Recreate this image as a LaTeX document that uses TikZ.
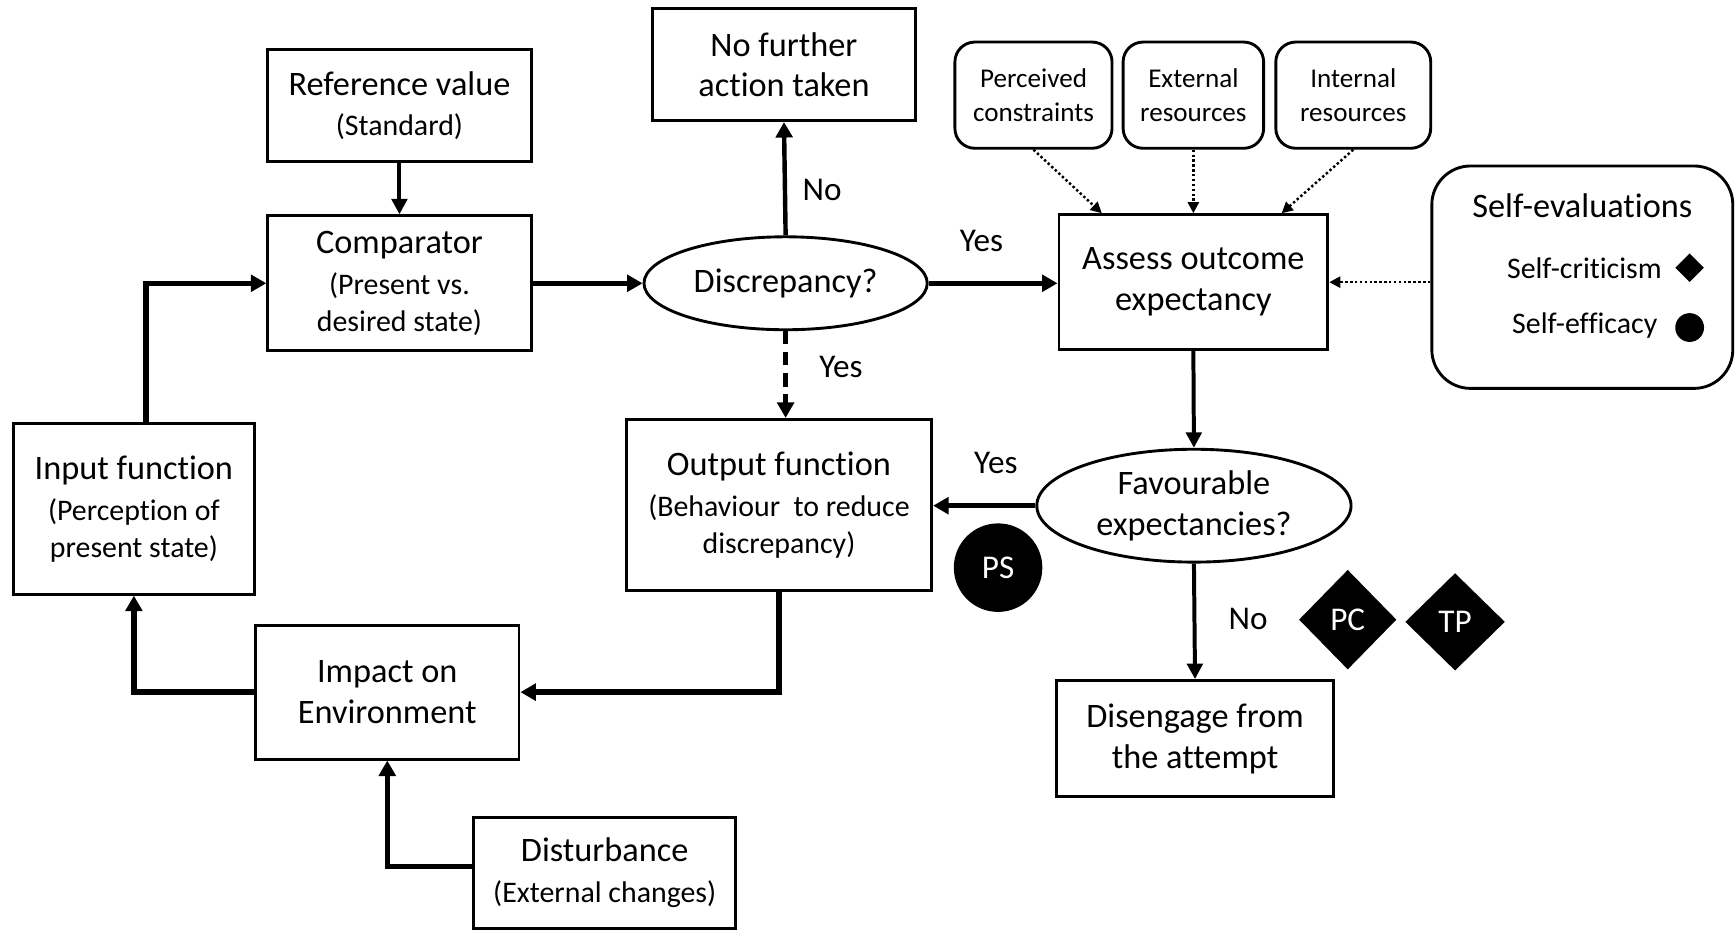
\documentclass[tikz,border=0pt]{standalone}
\usepackage{fontspec}
\setmainfont[Ligatures=NoCommon]{Carlito}
\usetikzlibrary{arrows.meta,shapes.geometric,calc}
\newcommand{\fA}{\fontsize{31}{37}\selectfont}
\newcommand{\fB}{\fontsize{27}{34}\selectfont}
\newcommand{\fC}{\fontsize{24.5}{30}\selectfont}
\newcommand{\fL}{\fontsize{30}{36}\selectfont}
\begin{document}
\begin{tikzpicture}[x=1pt,y=1pt,
  box/.style={draw,line width=2.6pt,align=center,inner sep=0pt,font=\fA},
  rbox/.style={draw,line width=2.6pt,align=center,inner sep=0pt,font=\fC,rounded corners=18pt},
  oval/.style={draw,ellipse,line width=2.6pt,align=center,inner sep=0pt,font=\fA},
  conn/.style={line width=5pt,-{Triangle[length=14pt,width=15pt]}},
  connm/.style={line width=3.6pt,-{Triangle[length=14pt,width=14pt]}},
  dotconn/.style={line width=2.2pt,dash pattern=on 2.2pt off 2.2pt,-{Triangle[length=10pt,width=10pt]}},
  lbl/.style={font=\fL,inner sep=0pt},
  blackmark/.style={fill=black,draw=none,text=white,font=\fL,inner sep=0pt}
]
\useasboundingbox (0,0) rectangle (1568,-841);

% main boxes
\node[box,minimum width=238,minimum height=101] (ref) at (361,-95.5)
  {Reference value\\{\fB (Standard)}};
\node[box,minimum width=238,minimum height=122] (comp) at (361,-256)
  {Comparator\\{\fB (Present vs.}\\[-4pt]{\fB desired state)}};
\node[box,minimum width=237,minimum height=101] (nofur) at (708.5,-58.5)
  {No further\\action taken};
\node[oval,minimum width=256,minimum height=84] (disc) at (710,-256) {Discrepancy?};
\node[box,minimum width=276,minimum height=155] (out) at (704,-456.5)
  {Output function\\{\fB (Behaviour\ \ to reduce}\\[-4pt]{\fB discrepancy)}};
\node[box,minimum width=218,minimum height=154] (inp) at (121,-460)
  {Input function\\{\fB (Perception of}\\[-4pt]{\fB present state)}};
\node[box,minimum width=238,minimum height=121] (imp) at (350,-625.5)
  {Impact on\\Environment};
\node[box,minimum width=237,minimum height=100] (dist) at (546.5,-789)
  {Disturbance\\{\fB (External changes)}};
\node[box,minimum width=243,minimum height=122] (ass) at (1078.5,-255)
  {Assess outcome\\expectancy};
\node[rbox,minimum width=142,minimum height=96] (perc) at (934,-86)
  {Perceived\\constraints};
\node[rbox,minimum width=127,minimum height=96] (ext) at (1078.5,-86)
  {External\\resources};
\node[rbox,minimum width=140,minimum height=96] (int) at (1223,-86)
  {Internal\\resources};
\node[draw,line width=2.6pt,rounded corners=35pt,minimum width=272,minimum height=201,inner sep=0pt] (self) at (1430,-250.5) {};
\node[font=\fA,inner sep=0pt] (selft) at (1430,-186) {Self-evaluations};
\node[font=\fB,inner sep=0pt,anchor=east] (scrit) at (1502,-242) {Self-criticism};
\node[font=\fB,inner sep=0pt,anchor=east] (seff) at (1498,-294) {Self-efficacy};
\node[diamond,fill=black,minimum width=26,minimum height=26,inner sep=0pt] (scd) at (1527,-242) {};
\node[circle,fill=black,minimum size=26,inner sep=0pt] (sec) at (1527,-296) {};
\node[oval,minimum width=284,minimum height=102] (fav) at (1079,-457)
  {Favourable\\expectancies?};
\node[blackmark,circle,minimum size=80] (ps) at (902,-513) {PS};
\node[blackmark,diamond,minimum width=88,minimum height=90] (pc) at (1218,-560) {PC};
\node[blackmark,diamond,minimum width=90,minimum height=88] (tp) at (1315,-562) {TP};
\node[box,minimum width=250,minimum height=105] (dis) at (1080,-667.5)
  {Disengage from\\the attempt};

% connectors
\draw[connm] (ref.south) -- (comp.north);
\draw[conn] (comp.east) -- (disc.west);
\draw[conn,line width=4pt] (disc.north) -- (nofur.south);
\node[lbl] (lno1) at (743,-172) {No};
\draw[conn] (disc.east) -- (ass.west |- disc.east);
\node[lbl] (lyes1) at (887,-218) {Yes};
\draw[conn,line width=4pt,dash pattern=on 12pt off 7pt] (disc.south) -- (disc.south |- out.north);
\node[lbl] (lyes2) at (760,-332) {Yes};
\draw[dotconn] (perc.south) -- ([xshift=40pt]ass.north west);
\draw[dotconn] (ext.south) -- (ass.north);
\draw[dotconn] (int.south) -- ([xshift=-43pt]ass.north east);
\draw[dotconn] (self.west |- ass.east) -- (ass.east);
\draw[connm] (ass.south) -- (fav.north);
\draw[conn] (fav.west) -- (out.east |- fav.west);
\node[lbl] (lyes3) at (900,-418) {Yes};
\draw[connm] (fav.south) -- (dis.north);
\node[lbl] (lno2) at (1128,-559) {No};
\draw[conn] (out.south) |- (imp.east);
\draw[conn] (imp.west) -| (inp.south);
\draw[conn] ([xshift=11pt]inp.north) |- (comp.west);
\draw[conn] ([yshift=6pt]dist.west) -| (imp.south);
\end{tikzpicture}
\end{document}
